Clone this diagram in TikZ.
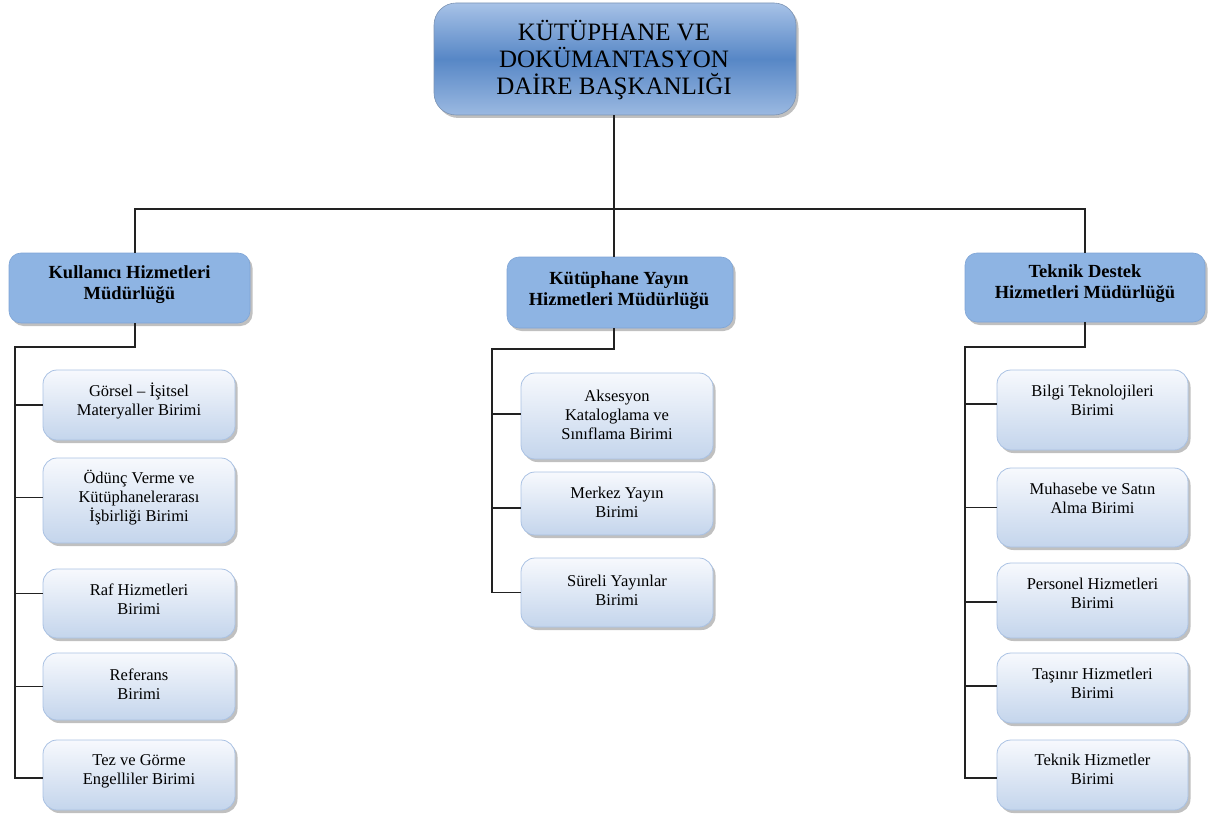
\documentclass[tikz,border=0pt]{standalone}
\usepackage{fontspec}
\setmainfont{Liberation Serif}
\usetikzlibrary{shadows}
\definecolor{mgrfill}{HTML}{8EB4E3}
\definecolor{mgrline}{HTML}{7FA5D6}
\definecolor{subtop}{HTML}{F7F9FD}
\definecolor{subbot}{HTML}{C4D5EC}
\definecolor{subline}{HTML}{A9C1E3}
\definecolor{toptop}{HTML}{A7C2E7}
\definecolor{topmid}{HTML}{5787C6}
\definecolor{topbot}{HTML}{9BB9E1}
\definecolor{linec}{HTML}{222222}
\tikzset{
  shad/.style={drop shadow={shadow xshift=2.5pt,shadow yshift=-3pt,fill=black!55,opacity=.45}},
  topbox/.style={shad,rounded corners=22pt,draw=topbot!80!black,line width=.6pt,
    top color=toptop,bottom color=topbot,middle color=topmid,
    minimum width=362pt,minimum height=112pt,inner sep=0pt},
  mgrbox/.style={shad,rounded corners=12pt,draw=mgrline,line width=.6pt,fill=mgrfill,
    minimum height=70pt,inner sep=0pt},
  subbox/.style={shad,rounded corners=14pt,draw=subline,line width=.8pt,
    top color=subtop,bottom color=subbot,minimum width=192pt,inner sep=0pt},
  toptxt/.style={align=center,inner sep=0pt,font=\fontsize{25}{27}\selectfont},
  mgrtxt/.style={align=center,inner sep=0pt,font=\bfseries\fontsize{18.5}{21}\selectfont},
  subtxt/.style={align=center,inner sep=0pt,font=\fontsize{16.5}{19}\selectfont},
  conn/.style={draw=linec,line width=1.5pt}
}
\begin{document}
\begin{tikzpicture}[x=1pt,y=-1pt]
\useasboundingbox (0,0) rectangle (1214,818);
% top
\node[topbox] (tb) at (615,59) {};
\node[toptxt] (tbt) at (614,60) {KÜTÜPHANE VE\\DOKÜMANTASYON\\DAİRE BAŞKANLIĞI};
% managers
\node[mgrbox,minimum width=241pt] (lm) at (129.5,288) {};
\node[mgrtxt] (lmt) at (129.5,285) {Kullanıcı Hizmetleri\\Müdürlüğü};
\node[mgrbox,minimum width=226pt,minimum height=71pt] (mm) at (620,292.5) {};
\node[mgrtxt] (mmt) at (619,290.5) {Kütüphane Yayın\\Hizmetleri Müdürlüğü};
\node[mgrbox,minimum width=240pt,minimum height=69pt] (rm) at (1085,287.5) {};
\node[mgrtxt] (rmt) at (1085,283.5) {Teknik Destek\\Hizmetleri Müdürlüğü};
% left units
\node[subbox,minimum height=70pt] (l1) at (139,405) {};
\node[subtxt] (l1t) at (139,400.5) {Görsel – İşitsel\\Materyaller Birimi};
\node[subbox,minimum height=85pt] (l2) at (139,500.5) {};
\node[subtxt] (l2t) at (139,498) {Ödünç Verme ve\\Kütüphanelerarası\\İşbirliği Birimi};
\node[subbox,minimum height=69pt] (l3) at (139,603.5) {};
\node[subtxt] (l3t) at (139,599.5) {Raf Hizmetleri\\Birimi};
\node[subbox,minimum height=67pt] (l4) at (139,686.5) {};
\node[subtxt] (l4t) at (139,684) {Referans\\Birimi};
\node[subbox,minimum height=70pt] (l5) at (139,775) {};
\node[subtxt] (l5t) at (139,771) {Tez ve Görme\\Engelliler Birimi};
% middle units
\node[subbox,minimum height=86pt] (m1) at (617,416) {};
\node[subtxt] (m1t) at (617,414.5) {Aksesyon\\Kataloglama ve\\Sınıflama Birimi};
\node[subbox,minimum height=63pt] (m2) at (617,503.5) {};
\node[subtxt] (m2t) at (617,502) {Merkez Yayın\\Birimi};
\node[subbox,minimum height=69pt] (m3) at (617,592.5) {};
\node[subtxt] (m3t) at (617,590) {Süreli Yayınlar\\Birimi};
% right units
\node[subbox,minimum width=191pt,minimum height=80pt] (r1) at (1092.5,410) {};
\node[subtxt] (r1t) at (1092.5,400) {Bilgi Teknolojileri\\Birimi};
\node[subbox,minimum width=191pt,minimum height=79pt] (r2) at (1092.5,507.5) {};
\node[subtxt] (r2t) at (1092.5,498.5) {Muhasebe ve Satın\\Alma Birimi};
\node[subbox,minimum width=191pt,minimum height=75pt] (r3) at (1092.5,600.5) {};
\node[subtxt] (r3t) at (1092.5,593.5) {Personel Hizmetleri\\Birimi};
\node[subbox,minimum width=191pt,minimum height=70pt] (r4) at (1092.5,688) {};
\node[subtxt] (r4t) at (1092.5,683) {Taşınır Hizmetleri\\Birimi};
\node[subbox,minimum width=191pt,minimum height=70pt] (r5) at (1092.5,775) {};
\node[subtxt] (r5t) at (1092.5,769.5) {Teknik Hizmetler\\Birimi};
% buses
\coordinate (hb) at (614,209);
\coordinate (lbus) at (15,347);
\coordinate (mbus) at (492,349);
\coordinate (rbus) at (965,347);
% connectors
\draw[conn] (tb.south -| hb) -- (mm.north -| hb);
\draw[conn] ([xshift=5.5pt]lm.north) |- (hb) -| (rm.north);
\draw[conn] ([xshift=5.5pt]lm.south) |- (lbus) |- ([yshift=-3pt]l5.west);
\draw[conn] (l1.west) -- (l1.west -| lbus);
\draw[conn] ([yshift=3pt]l2.west) -- ([yshift=3pt]l2.west -| lbus);
\draw[conn] ([yshift=10pt]l3.west) -- ([yshift=10pt]l3.west -| lbus);
\draw[conn] (l4.west) -- (l4.west -| lbus);
\draw[conn] ([xshift=-6pt]mm.south) |- (mbus) |- (m3.west);
\draw[conn] ([yshift=2pt]m1.west) -- ([yshift=2pt]m1.west -| mbus);
\draw[conn] ([yshift=-4.5pt]m2.west) -- ([yshift=-4.5pt]m2.west -| mbus);
\draw[conn] (rm.south) |- (rbus) |- ([yshift=-3pt]r5.west);
\draw[conn] ([yshift=6pt]r1.west) -- ([yshift=6pt]r1.west -| rbus);
\draw[conn] (r2.west) -- (r2.west -| rbus);
\draw[conn] ([yshift=-1.5pt]r3.west) -- ([yshift=-1.5pt]r3.west -| rbus);
\draw[conn] ([yshift=2pt]r4.west) -- ([yshift=2pt]r4.west -| rbus);
\end{tikzpicture}
\end{document}
